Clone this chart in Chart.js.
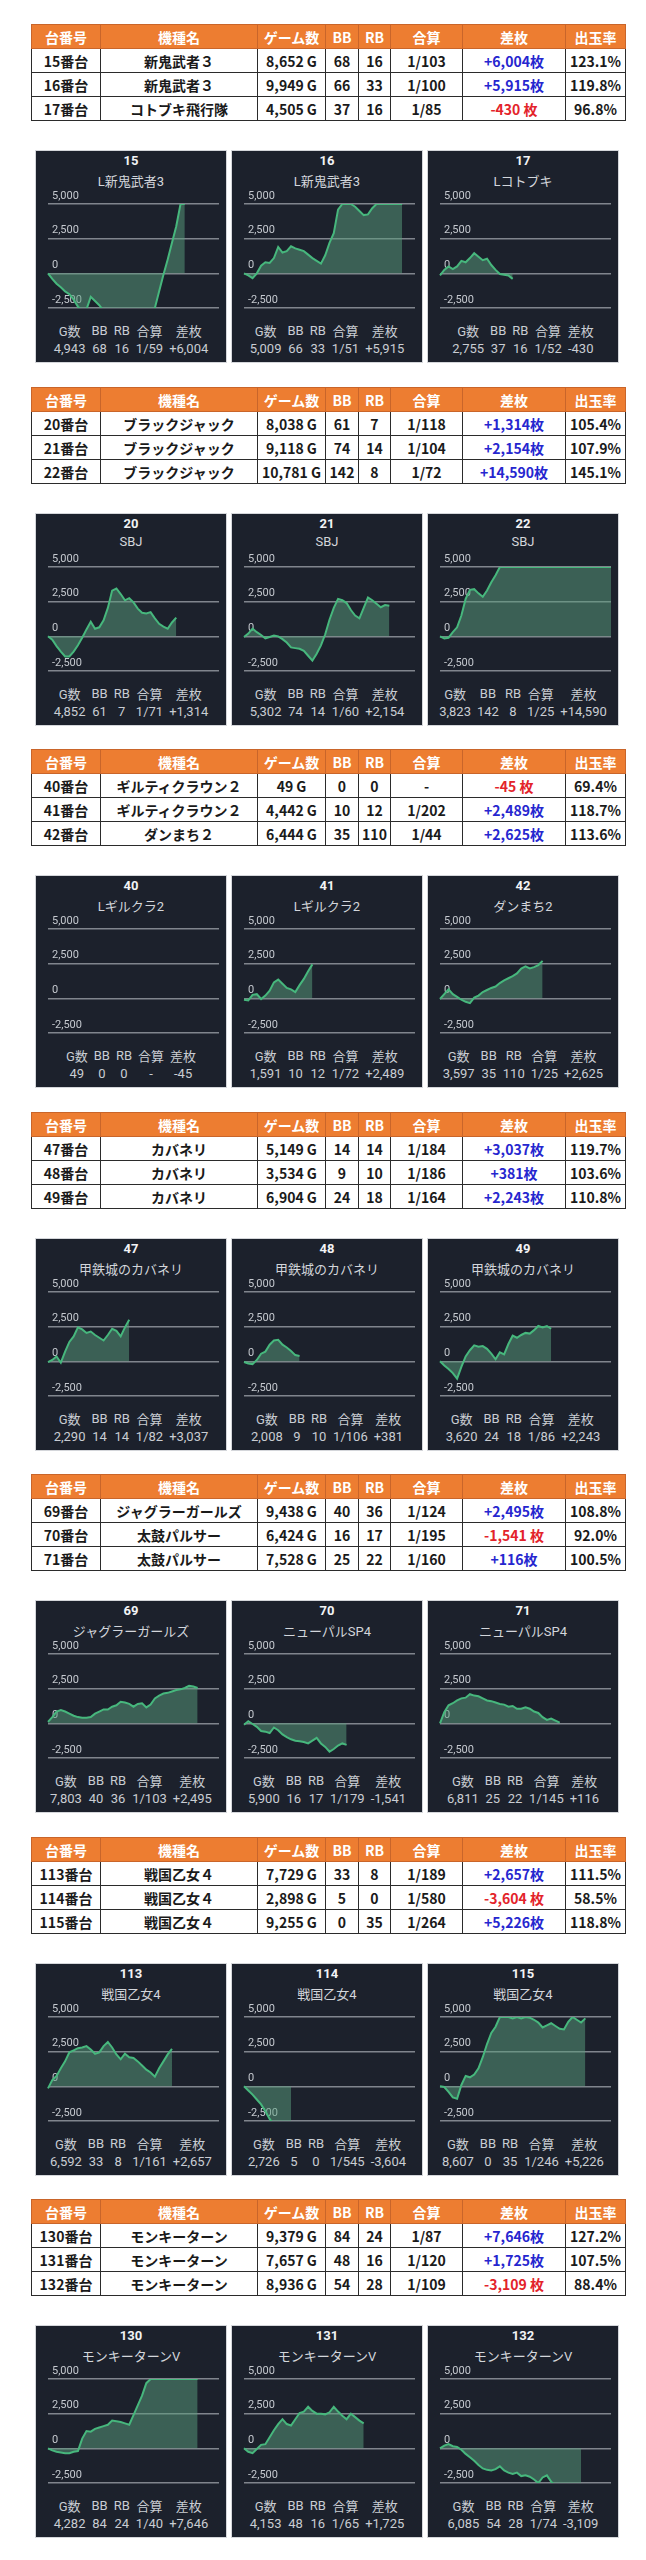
<!DOCTYPE html>
<html lang="ja">
<head>
<meta charset="utf-8">
<script src="https://cdn.jsdelivr.net/npm/chart.js@4.4.1/dist/chart.umd.min.js"></script>
<style>
  body { margin: 0; background: #fff; width: 646px; height: 2560px; position: relative; font-family: "Noto Sans CJK JP", sans-serif; }
  .tbl { position: absolute; left: 31px; width: 594px; border-collapse: collapse; table-layout: fixed; font-weight: bold; font-size: 14px; color: #1a1a1a; }
  .tbl th, .tbl td { border: 1px solid #2b2b2b; height: 23px; padding: 0; text-align: center; line-height: 22px; white-space: nowrap; overflow: hidden; }
  .tbl th { background: #ed7d31; color: #fff; border-color: #c9652a; }
  .tbl td.plus { color: #2626cf; }
  .tbl td.minus { color: #e3232a; }
  .panel { position: absolute; width: 190px; height: 211px; background: #1c212c; outline: 1px solid #d4d6da; }
  .panel .num { position: absolute; top: 2px; left: 0; width: 100%; text-align: center; color: #f2f3f5; font: bold 13px Roboto, "Noto Sans CJK JP", sans-serif; }
  .panel .name { position: absolute; top: 20px; left: 0; width: 100%; text-align: center; color: #d3d6db; font: 13px Roboto, "Noto Sans CJK JP", sans-serif; }
  .panel canvas { position: absolute; left: 0; top: 36px; }
  .panel .st { position: absolute; top: 170px; left: 0; right: 0; margin: 0 auto; border-collapse: collapse; color: #c9cdd3; font: 13px Roboto, "Noto Sans CJK JP", sans-serif; }
  .panel .st td { padding: 0 3px; height: 17px; text-align: center; white-space: nowrap; }
</style>
</head>
<body>
<script>
// table columns
const headers = ['台番号', '機種名', 'ゲーム数', 'BB', 'RB', '合算', '差枚', '出玉率'];
const colWidths = [69, 157, 68, 33, 32, 72, 103, 60];

// table rows (one entry per machine)
const units = ['15', '16', '17', '20', '21', '22', '40', '41', '42', '47', '48', '49', '69', '70', '71', '113', '114', '115', '130', '131', '132'];
const machines = ['新鬼武者３', '新鬼武者３', 'コトブキ飛行隊', 'ブラックジャック', 'ブラックジャック', 'ブラックジャック',
  'ギルティクラウン２', 'ギルティクラウン２', 'ダンまち２', 'カバネリ', 'カバネリ', 'カバネリ',
  'ジャグラーガールズ', '太鼓パルサー', '太鼓パルサー', '戦国乙女４', '戦国乙女４', '戦国乙女４',
  'モンキーターン', 'モンキーターン', 'モンキーターン'];
const games = ['8,652 G', '9,949 G', '4,505 G', '8,038 G', '9,118 G', '10,781 G', '49 G', '4,442 G', '6,444 G',
  '5,149 G', '3,534 G', '6,904 G', '9,438 G', '6,424 G', '7,528 G', '7,729 G', '2,898 G', '9,255 G',
  '9,379 G', '7,657 G', '8,936 G'];
const bb = ['68', '66', '37', '61', '74', '142', '0', '10', '35', '14', '9', '24', '40', '16', '25', '33', '5', '0', '84', '48', '54'];
const rb = ['16', '33', '16', '7', '14', '8', '0', '12', '110', '14', '10', '18', '36', '17', '22', '8', '0', '35', '24', '16', '28'];
const gassan = ['1/103', '1/100', '1/85', '1/118', '1/104', '1/72', '-', '1/202', '1/44', '1/184', '1/186', '1/164',
  '1/124', '1/195', '1/160', '1/189', '1/580', '1/264', '1/87', '1/120', '1/109'];
const diff = ['+6,004枚', '+5,915枚', '-430 枚', '+1,314枚', '+2,154枚', '+14,590枚', '-45 枚', '+2,489枚', '+2,625枚',
  '+3,037枚', '+381枚', '+2,243枚', '+2,495枚', '-1,541 枚', '+116枚', '+2,657枚', '-3,604 枚', '+5,226枚',
  '+7,646枚', '+1,725枚', '-3,109 枚'];
const rate = ['123.1%', '119.8%', '96.8%', '105.4%', '107.9%', '145.1%', '69.4%', '118.7%', '113.6%',
  '119.7%', '103.6%', '110.8%', '108.8%', '92.0%', '100.5%', '111.5%', '58.5%', '118.8%',
  '127.2%', '107.5%', '88.4%'];

// graph panels
const panelNames = ['L新鬼武者3', 'L新鬼武者3', 'Lコトブキ', 'SBJ', 'SBJ', 'SBJ', 'Lギルクラ2', 'Lギルクラ2', 'ダンまち2',
  '甲鉄城のカバネリ', '甲鉄城のカバネリ', '甲鉄城のカバネリ', 'ジャグラーガールズ', 'ニューパルSP4', 'ニューパルSP4',
  '戦国乙女4', '戦国乙女4', '戦国乙女4', 'モンキーターンV', 'モンキーターンV', 'モンキーターンV'];
const statHeaders = ['G数', 'BB', 'RB', '合算', '差枚'];
const panelGames = ['4,943', '5,009', '2,755', '4,852', '5,302', '3,823', '49', '1,591', '3,597', '2,290', '2,008', '3,620',
  '7,803', '5,900', '6,811', '6,592', '2,726', '8,607', '4,282', '4,153', '6,085'];
const panelBB = ['68', '66', '37', '61', '74', '142', '0', '10', '35', '14', '9', '24', '40', '16', '25', '33', '5', '0', '84', '48', '54'];
const panelRB = ['16', '33', '16', '7', '14', '8', '0', '12', '110', '14', '10', '18', '36', '17', '22', '8', '0', '35', '24', '16', '28'];
const panelGassan = ['1/59', '1/51', '1/52', '1/71', '1/60', '1/25', '-', '1/72', '1/25', '1/82', '1/106', '1/86',
  '1/103', '1/179', '1/145', '1/161', '1/545', '1/246', '1/40', '1/65', '1/74'];
const panelDiff = ['+6,004', '+5,915', '-430', '+1,314', '+2,154', '+14,590', '-45', '+2,489', '+2,625', '+3,037', '+381', '+2,243',
  '+2,495', '-1,541', '+116', '+2,657', '-3,604', '+5,226', '+7,646', '+1,725', '-3,109'];

// y axis ticks and x slots
const yTicks = [-2500, 0, 2500, 5000];
const slotCount = 40;

// difference curves, one value per slot (clipped at the axis limits)
const s15 = [0, -400, -750, -1000, -1300, -1500, -1900, -2400, -2700, -2600, -1700, -2000, -2300, -2700, -3000, -3000, -3000, -3000, -3000, -3000, -3000, -3000, -3000, -3000, -3000, -2500, -1300, -100, 1000, 2200, 3400, 5000, 5000];
const s16 = [0, -150, -350, 0, 550, 800, 750, 1100, 1900, 1500, 1600, 1950, 1800, 1700, 1600, 1350, 1100, 900, 700, 1300, 2200, 2900, 4600, 5000, 5000, 5000, 4800, 4500, 4200, 4250, 4700, 5000, 5000, 5000, 5000, 5000, 5000, 5000];
const s17 = [-150, 250, 500, 300, 500, 900, 800, 1100, 1450, 1200, 950, 1050, 600, 250, -50, -100, -150, -400];
const s20 = [0, -250, -700, -1100, -1450, -1450, -1100, -650, -100, 500, 1050, 550, 650, 1150, 2050, 3300, 3450, 3050, 2600, 2750, 2450, 2000, 1700, 1650, 1750, 1300, 900, 700, 550, 1000, 1350];
const s21 = [-50, 200, 550, 300, 100, -150, -50, 50, 0, -200, -450, -800, -850, -900, -1050, -1400, -1750, -1250, -650, 150, 1200, 2050, 2700, 2600, 2400, 1900, 1500, 1300, 2050, 2800, 2600, 2350, 2100, 2250, 2200];
const s22 = [0, -150, -100, 300, 650, 1500, 2700, 3350, 3400, 3100, 2850, 3300, 3900, 4400, 5000, 5000, 5000, 5000, 5000, 5000, 5000, 5000, 5000, 5000, 5000, 5000, 5000, 5000, 5000, 5000, 5000, 5000, 5000, 5000, 5000, 5000, 5000, 5000, 5000, 5000, 5000];
const s40 = [];
const s41 = [-100, -150, 250, 300, -50, 200, 550, 1150, 1350, 1050, 750, 650, 450, 950, 1400, 1950, 2450];
const s42 = [-50, 300, 650, 300, 100, -100, -250, -350, 50, 200, 450, 600, 750, 850, 1100, 1300, 1450, 1600, 1800, 2150, 2300, 2150, 2250, 2400, 2700];
const s47 = [-50, 100, 350, -100, 700, 1400, 1800, 2450, 2300, 2050, 2150, 1900, 1700, 1500, 1900, 2350, 2200, 1800, 2450, 3000];
const s48 = [-50, -150, -200, 100, 550, 700, 1200, 1500, 1550, 1200, 1000, 750, 450, 380];
const s49 = [0, -300, -550, -850, -1250, -400, 350, 800, 1150, 1050, 1100, 900, 550, 150, 650, 500, 1250, 1850, 1700, 1900, 2050, 2000, 2250, 2550, 2450, 2550, 2350];
const s69 = [100, 450, 850, 950, 850, 700, 550, 450, 400, 400, 450, 700, 850, 1000, 1000, 1200, 1300, 1550, 1500, 1400, 1200, 1400, 1450, 1150, 1350, 1800, 2000, 2150, 2200, 2300, 2400, 2450, 2550, 2700, 2650, 2550];
const s70 = [-100, 150, -50, -250, -550, -600, -700, -300, -500, -800, -1000, -1150, -1250, -1300, -1350, -1450, -1250, -1050, -1450, -1700, -2050, -1850, -1600, -1450, -1550];
const s71 = [0, 800, 1300, 1450, 1650, 1800, 1850, 2100, 2000, 1950, 1800, 1650, 1600, 1500, 1400, 1350, 1200, 1250, 1050, 1050, 1150, 1050, 850, 750, 450, 250, 350, 200, 50];
const s113 = [-150, 450, 750, 1300, 1800, 2450, 2600, 2750, 2800, 2900, 2650, 2350, 2450, 2900, 3200, 2800, 2300, 1950, 2350, 2100, 2050, 1800, 1500, 1200, 1000, 700, 1300, 1800, 2300, 2700];
const s114 = [0, -300, -600, -950, -1300, -1800, -2350, -2800, -3100, -3300, -3500, -3600];
const s115 = [0, -50, -400, -800, -900, 100, 750, 650, 850, 1300, 2100, 3050, 3850, 4300, 5000, 5000, 5000, 4900, 5000, 4900, 5000, 4950, 4800, 4600, 4250, 4400, 4550, 4350, 4150, 4100, 4650, 5000, 4800, 4600, 4900];
const s130 = [0, -150, -250, -300, -350, -350, -250, -200, 700, 1250, 1200, 1400, 1500, 1600, 1700, 2000, 1950, 1900, 1800, 1700, 2400, 3100, 3800, 4700, 5000, 5000, 5000, 5000, 5000, 5000, 5000, 5000, 5000, 5000, 5000, 5000];
const s131 = [0, -250, -350, -50, 250, 300, 800, 1300, 1750, 2100, 1750, 1650, 2100, 2550, 2650, 3000, 2700, 2500, 2500, 2450, 2600, 3000, 2650, 2350, 2100, 2500, 2250, 2000, 1800];
const s132 = [0, 200, 300, 150, 100, -100, -400, -650, -900, -1200, -1450, -1550, -1600, -1500, -1300, -1600, -1750, -1850, -1750, -2000, -1950, -2050, -2250, -2500, -2100, -1950, -2400, -2700, -2900, -3000, -3100, -3100, -3100, -3100];

const curves = [s15, s16, s17, s20, s21, s22, s40, s41, s42, s47, s48, s49, s69, s70, s71, s113, s114, s115, s130, s131, s132];

const LINE = '#47b77d';
const FILL = 'rgba(90, 160, 125, 0.5)';
const slots = Array.from({ length: slotCount + 1 }, (_, i) => i);

function el(tag, cls, parent) {
  const e = document.createElement(tag);
  if (cls) e.className = cls;
  parent.appendChild(e);
  return e;
}

function makeTable(top, rows) {
  const t = el('table', 'tbl', document.body);
  t.style.top = top + 'px';
  const cg = el('colgroup', null, t);
  colWidths.forEach(w => { el('col', null, cg).style.width = w + 'px'; });
  const hr = el('tr', null, t);
  headers.forEach(h => { el('th', null, hr).textContent = h; });
  rows.forEach(i => {
    const tr = el('tr', null, t);
    const cells = [units[i] + '番台', machines[i], games[i], bb[i], rb[i], gassan[i], diff[i], rate[i]];
    cells.forEach((c, j) => {
      const td = el('td', null, tr);
      td.textContent = c;
      if (j === 6) td.className = c.startsWith('-') ? 'minus' : 'plus';
    });
  });
}

function makePanel(left, top, i) {
  const p = el('div', 'panel', document.body);
  p.style.left = left + 'px';
  p.style.top = top + 'px';
  el('div', 'num', p).textContent = units[i];
  el('div', 'name', p).textContent = panelNames[i];
  const cv = el('canvas', null, p);
  cv.width = 190;
  cv.height = 134;
  const st = el('table', 'st', p);
  const r1 = el('tr', null, st);
  statHeaders.forEach(h => { el('td', null, r1).textContent = h; });
  const r2 = el('tr', null, st);
  [panelGames[i], panelBB[i], panelRB[i], panelGassan[i], panelDiff[i]].forEach(v => { el('td', null, r2).textContent = v; });

  new Chart(cv, {
    type: 'line',
    data: {
      labels: slots,
      datasets: [{
        data: curves[i],
        borderColor: LINE,
        backgroundColor: FILL,
        borderWidth: 2,
        pointRadius: 0,
        fill: 'origin',
        tension: 0
      }]
    },
    options: {
      responsive: false,
      animation: false,
      layout: { padding: { left: 4, right: 7, top: 17, bottom: 13 } },
      plugins: { legend: { display: false }, tooltip: { enabled: false } },
      scales: {
        x: { display: false, offset: false },
        y: {
          min: yTicks[0],
          max: yTicks[yTicks.length - 1],
          afterBuildTicks: axis => { axis.ticks = yTicks.map(v => ({ value: v })); },
          ticks: {
            mirror: true,
            padding: 4,
            labelOffset: -8,
            color: '#c5c9cf',
            font: { size: 11, family: 'Roboto' }
          },
          grid: { color: '#80858d', lineWidth: 1.5, drawTicks: false },
          border: { display: false }
        }
      }
    }
  });
}

const groups = 7;
const panelLefts = [36, 232, 428];
for (let g = 0; g < groups; g++) {
  const top = Math.round(g * 362.5);
  const rows = [g * 3, g * 3 + 1, g * 3 + 2];
  makeTable(top + 24, rows);
  rows.forEach((i, k) => makePanel(panelLefts[k], top + 151, i));
}
</script>
</body>
</html>
